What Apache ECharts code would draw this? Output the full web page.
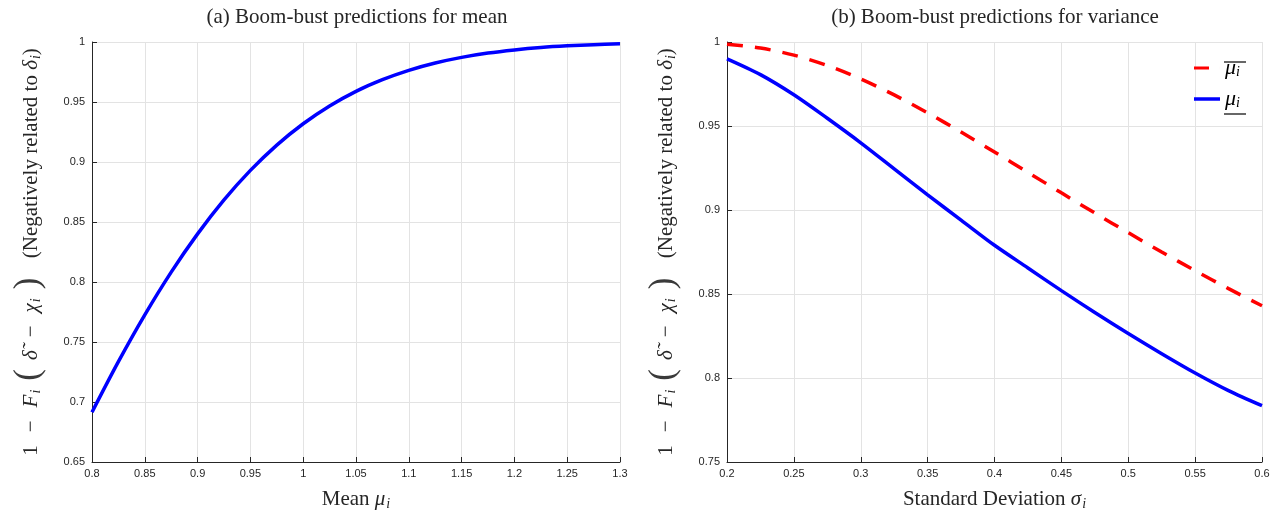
<!DOCTYPE html>
<html>
<head>
<meta charset="utf-8">
<script src="https://cdn.jsdelivr.net/npm/echarts@6/dist/echarts.min.js"></script>
<style>
html,body{margin:0;padding:0;background:#fff;}
#chart{width:1287px;height:516px;}
</style>
</head>
<body>
<div id="chart"></div>
<script>
// Panel (a): mean
const meanX = [0.8,0.825,0.85,0.875,0.9,0.925,0.95,0.975,1.0,1.025,1.05,1.075,1.1,1.125,1.15,1.175,1.2,1.225,1.25,1.275,1.3];
const meanY = [0.6915,0.7336,0.7726,0.8082,0.8401,0.8684,0.8930,0.9141,0.9319,0.9467,0.9589,0.9686,0.9764,0.9825,0.9872,0.9908,0.9934,0.9954,0.9968,0.9978,0.9985];
// Panel (b): variance
const sdX = [0.2,0.225,0.25,0.275,0.3,0.325,0.35,0.375,0.4,0.425,0.45,0.475,0.5,0.525,0.55,0.575,0.6];
const upperY = [0.9987,0.9964,0.9922,0.9860,0.9780,0.9685,0.9578,0.9464,0.9345,0.9224,0.9102,0.8982,0.8865,0.8750,0.8639,0.8532,0.8430];
const lowerY = [0.9900,0.9806,0.9686,0.9546,0.9400,0.9245,0.9090,0.8940,0.8790,0.8655,0.8520,0.8390,0.8265,0.8145,0.8030,0.7925,0.7835];
const xTicksA = {min:0.8, max:1.3, interval:0.05};
const yTicksA = {min:0.65, max:1, interval:0.05};
const xTicksB = {min:0.2, max:0.6, interval:0.05};
const yTicksB = {min:0.75, max:1, interval:0.05};
const titles = ['(a) Boom-bust predictions for mean','(b) Boom-bust predictions for variance'];

const serif = "'Liberation Serif','DejaVu Serif',serif";
const sans = "'Liberation Sans','Helvetica',Arial,sans-serif";
const ink = '#262626';

const nameRich = {
  n:{fontFamily:serif,fontSize:21,color:ink,verticalAlign:'middle',lineHeight:30},
  op:{fontFamily:serif,fontSize:21,color:ink,verticalAlign:'middle',lineHeight:30,padding:[0,13,0,13]},
  it:{fontFamily:serif,fontSize:21,fontStyle:'italic',color:ink,verticalAlign:'middle',lineHeight:30},
  sub:{fontFamily:serif,fontSize:14,fontStyle:'italic',color:ink,verticalAlign:'middle',lineHeight:30,padding:[10,0,0,1]},
  par:{fontFamily:serif,fontSize:35,color:'#3a3a3a',verticalAlign:'middle',lineHeight:30,padding:[0,9,4,9]}
};
const yName = '{n|1}{op|−}{it|F}{sub|i}{par|(}{it|δ̃}{op|−}{it|χ}{sub|i}{par|)}{n|  (Negatively related to }{it|δ}{sub|i}{n|)}';

function fmt(v){ return String(+v.toFixed(2)); }

function xAxis(idx, t, nameStr){
  return {
    type:'value', gridIndex:idx, min:t.min, max:t.max, interval:t.interval,
    name:nameStr, nameLocation:'middle', nameGap:22,
    nameTextStyle:{rich:nameRich},
    axisLine:{show:true,onZero:false,lineStyle:{color:ink,width:1}},
    axisTick:{show:true,inside:true,length:5,lineStyle:{color:ink}},
    axisLabel:{fontFamily:sans,fontSize:11,color:ink,margin:6,formatter:fmt},
    splitLine:{show:true,lineStyle:{color:'#e3e3e3',width:1}}
  };
}
function yAxis(idx, t){
  return {
    type:'value', gridIndex:idx, min:t.min, max:t.max, interval:t.interval,
    name:yName, nameLocation:'middle', nameGap:46, nameRotate:90,
    nameTextStyle:{rich:nameRich},
    axisLine:{show:true,onZero:false,lineStyle:{color:ink,width:1}},
    axisTick:{show:true,inside:true,length:5,lineStyle:{color:ink}},
    axisLabel:{fontFamily:sans,fontSize:11,color:ink,margin:7,formatter:fmt},
    splitLine:{show:true,lineStyle:{color:'#e3e3e3',width:1}}
  };
}

const chart = echarts.init(document.getElementById('chart'));
chart.setOption({
  backgroundColor:'#fff',
  animation:false,
  title:[
    {text:titles[0],left:352,top:2,textAlign:'center',
     textStyle:{fontFamily:serif,fontSize:21,fontWeight:'normal',color:ink}},
    {text:titles[1],left:990,top:2,textAlign:'center',
     textStyle:{fontFamily:serif,fontSize:21,fontWeight:'normal',color:ink}}
  ],
  grid:[
    {left:92,right:667,top:42,bottom:52},
    {left:727,right:25,top:42,bottom:52}
  ],
  legend:{
    left:1194, top:57, padding:0, orient:'vertical', itemGap:9, itemWidth:26, itemHeight:3.5,
    data:[
      {name:'upper',icon:'path://M0,0H15V3H0Z M26,0H26.01V3H26Z'},
      {name:'lower',icon:'rect'}
    ],
    formatter:function(n){ return '{it|μ}{sub|i}'; },
    textStyle:{rich:{
      it:{fontFamily:serif,fontSize:22,fontStyle:'italic',color:'#000',verticalAlign:'middle',lineHeight:24},
      sub:{fontFamily:serif,fontSize:14,fontStyle:'italic',color:'#000',verticalAlign:'middle',lineHeight:24,padding:[8,0,0,0]}
    }}
  },
  graphic:[
    {type:'line',shape:{x1:1224,y1:62,x2:1246,y2:62},style:{stroke:'#000',lineWidth:1.2},silent:true},
    {type:'line',shape:{x1:1224,y1:114,x2:1246,y2:114},style:{stroke:'#000',lineWidth:1.2},silent:true}
  ],
  xAxis:[
    xAxis(0,xTicksA,'{n|Mean }{it|μ}{sub|i}'),
    xAxis(1,xTicksB,'{n|Standard Deviation }{it|σ}{sub|i}')
  ],
  yAxis:[ yAxis(0,yTicksA), yAxis(1,yTicksB) ],
  series:[
    {type:'line',xAxisIndex:0,yAxisIndex:0,data:meanX.map((x,i)=>[x,meanY[i]]),
     smooth:0.3,showSymbol:false,symbol:'none',lineStyle:{color:'#0000ff',width:3.5},itemStyle:{color:'#0000ff'}},
    {name:'upper',type:'line',xAxisIndex:1,yAxisIndex:1,data:sdX.map((x,i)=>[x,upperY[i]]),
     smooth:0.3,showSymbol:false,symbol:'none',lineStyle:{color:'#ff0000',width:3.5,type:[16,12]},itemStyle:{color:'#ff0000'}},
    {name:'lower',type:'line',xAxisIndex:1,yAxisIndex:1,data:sdX.map((x,i)=>[x,lowerY[i]]),
     smooth:0.3,showSymbol:false,symbol:'none',lineStyle:{color:'#0000ff',width:3.5},itemStyle:{color:'#0000ff'}}
  ]
});
</script>
</body>
</html>
